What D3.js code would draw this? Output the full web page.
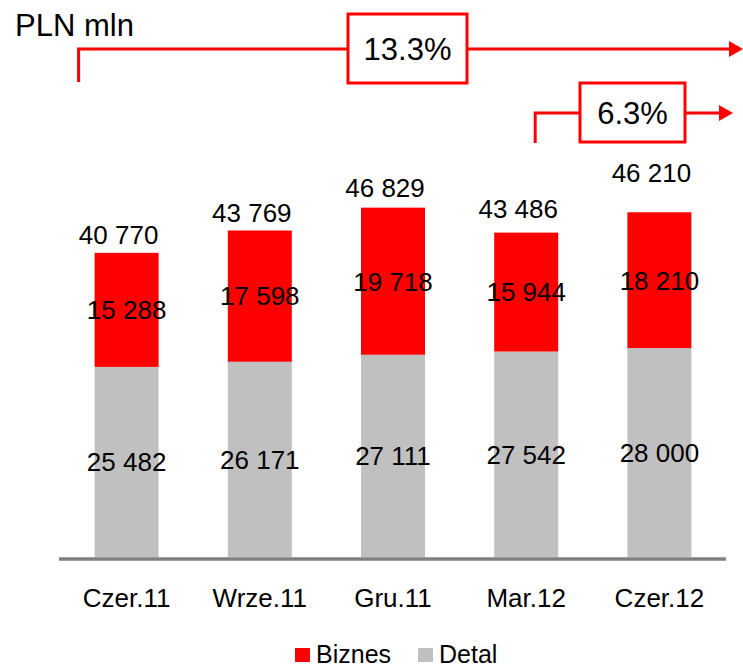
<!DOCTYPE html>
<html lang="pl">
<head>
	<meta charset="utf-8">
	<title>PLN mln - Biznes / Detal</title>
	<script src="https://d3js.org/d3.v7.min.js"></script>
	<style>
		body { margin: 0; background: #fff; }
		svg { display: block; font-family: "Liberation Sans", Arial, sans-serif; }
	</style>
</head>
<body>
	<script>
		// data
		var categories = ["Czer.11", "Wrze.11", "Gru.11", "Mar.12", "Czer.12"];
		var detal = [25482, 26171, 27111, 27542, 28000];
		var biznes = [15288, 17598, 19718, 15944, 18210];
		var totals = [40770, 43769, 46829, 43486, 46210];
		var seriesNames = ["Biznes", "Detal"];
		var growthLabels = ["13.3%", "6.3%"];

		// label lift above the bar top (the original places them unevenly)
		var totalLabelLift = [18, 18, 20, 24, 40];

		var svgWidth = 743,
			svgHeight = 670,
			colors = {Biznes: "#ff0000", Detal: "#c0c0c0"},
			fmt = function(v) { return d3.format(",")(v).replace(/,/g, " "); };

		var svg = d3.select("body").append("svg")
			.attr("width", svgWidth)
			.attr("height", svgHeight);

		var x = d3.scaleBand()
			.domain(categories)
			.range([60, 726]);

		var barW = 64;
		var cx = function(c) { return x(c) + x.bandwidth() / 2; };

		var y = d3.scaleLinear()
			.domain([0, 50000])
			.range([557, 184]);

		var rows = categories.map(function(c, i) {
			return {cat: c, Detal: detal[i], Biznes: biznes[i], total: totals[i], lift: totalLabelLift[i]};
		});

		var series = d3.stack().keys(["Detal", "Biznes"])(rows);

		// bars
		svg.append("g")
			.selectAll("g")
			.data(series)
			.enter().append("g")
			.attr("fill", function(d) { return colors[d.key]; })
			.selectAll("rect")
			.data(function(d) { return d; })
			.enter().append("rect")
			.attr("x", function(d) { return cx(d.data.cat) - barW / 2; })
			.attr("y", function(d) { return y(d[1]); })
			.attr("width", barW)
			.attr("height", function(d) { return y(d[0]) - y(d[1]); });

		// segment labels
		svg.append("g")
			.attr("font-size", 26)
			.attr("text-anchor", "middle")
			.attr("fill", "#000")
			.selectAll("g")
			.data(series)
			.enter().append("g")
			.selectAll("text")
			.data(function(d) { return d.map(function(p) { return {p: p, key: d.key}; }); })
			.enter().append("text")
			.attr("x", function(d) { return cx(d.p.data.cat); })
			.attr("y", function(d) { return (y(d.p[0]) + y(d.p[1])) / 2; })
			.attr("dy", "0.36em")
			.text(function(d) { return fmt(d.p.data[d.key]); });

		// total labels
		svg.append("g")
			.attr("font-size", 26)
			.attr("text-anchor", "middle")
			.selectAll("text")
			.data(rows)
			.enter().append("text")
			.attr("x", function(d) { return cx(d.cat) - 8; })
			.attr("y", function(d) { return y(d.total) - d.lift; })
			.attr("dy", "0.36em")
			.text(function(d) { return fmt(d.total); });

		// x axis
		var xAxis = svg.append("g")
			.attr("transform", "translate(0,559)")
			.call(d3.axisBottom(x).tickSize(0).tickPadding(30));
		xAxis.select(".domain")
			.attr("stroke", "#808080")
			.attr("stroke-width", 3.5)
			.attr("d", "M59,0H726");
		xAxis.selectAll("text")
			.attr("font-size", 26)
			.attr("font-family", "\"Liberation Sans\", Arial, sans-serif")
			.attr("fill", "#000");

		// unit title
		svg.append("text")
			.attr("x", 15)
			.attr("y", 36)
			.attr("font-size", 31)
			.text("PLN mln");

		// growth arrows
		var red = "#ff0000";
		var defs = svg.append("defs");
		defs.append("marker")
			.attr("id", "arrow")
			.attr("viewBox", "0 0 14 16")
			.attr("refX", 0)
			.attr("refY", 8)
			.attr("markerUnits", "userSpaceOnUse")
			.attr("markerWidth", 14)
			.attr("markerHeight", 16)
			.attr("orient", "auto")
			.append("path")
			.attr("d", "M0,0L14,8L0,16Z")
			.attr("fill", red);

		var growth = [
			{label: growthLabels[0], x0: cx(categories[0]) - 48, yStart: 82, yLine: 49, x1: 729, box: {x: 348, y: 14, w: 119, h: 69}},
			{label: growthLabels[1], x0: cx(categories[3]) + 9, yStart: 143, yLine: 113, x1: 719, box: {x: 580, y: 83, w: 105, h: 59}}
		];

		var ga = svg.append("g").selectAll("g")
			.data(growth)
			.enter().append("g");

		ga.append("path")
			.attr("fill", "none")
			.attr("stroke", red)
			.attr("stroke-width", 3)
			.attr("marker-end", "url(#arrow)")
			.attr("d", function(d) { return "M" + d.x0 + "," + d.yStart + "V" + d.yLine + "H" + d.x1; });

		ga.append("rect")
			.attr("x", function(d) { return d.box.x; })
			.attr("y", function(d) { return d.box.y; })
			.attr("width", function(d) { return d.box.w; })
			.attr("height", function(d) { return d.box.h; })
			.attr("fill", "#fff")
			.attr("stroke", red)
			.attr("stroke-width", 3);

		ga.append("text")
			.attr("x", function(d) { return d.box.x + d.box.w / 2; })
			.attr("y", function(d) { return d.box.y + d.box.h / 2; })
			.attr("dy", "0.36em")
			.attr("text-anchor", "middle")
			.attr("font-size", 31)
			.text(function(d) { return d.label; });

		// legend
		var legendX = [295, 418];
		var legend = svg.append("g")
			.selectAll("g")
			.data(seriesNames)
			.enter().append("g")
			.attr("transform", function(d, i) { return "translate(" + legendX[i] + ",648)"; });

		legend.append("rect")
			.attr("width", 15)
			.attr("height", 14)
			.attr("fill", function(d) { return colors[d]; });

		legend.append("text")
			.attr("x", 21)
			.attr("y", 15)
			.attr("font-size", 25)
			.text(function(d) { return d; });
	</script>
</body>
</html>
